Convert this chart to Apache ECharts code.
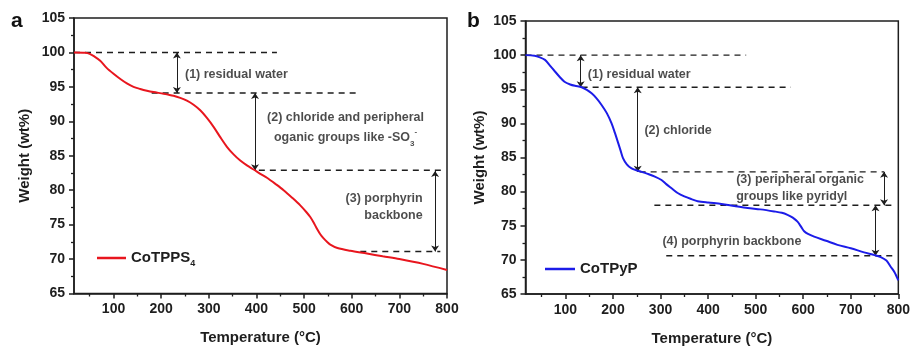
<!DOCTYPE html>
<html>
<head>
<meta charset="utf-8">
<script src="https://cdn.jsdelivr.net/npm/echarts@6/dist/echarts.min.js"></script>
<style>
html,body{margin:0;padding:0;background:#fff;}
#c{width:913px;height:351px;}
</style>
</head>
<body>
<div id="c"></div>
<script>
// ---------- data ----------
const tempA = [17, 40, 50, 60, 72, 85, 100, 115, 128, 142, 156, 170, 184, 205, 226, 240, 254, 268, 282, 296, 310, 324, 338, 352, 366, 380, 394, 410, 422, 440, 457, 475, 492, 505, 513, 520, 527, 534, 541, 548, 555, 570, 597, 632, 665, 700, 750, 800];
const weightA = [100, 99.95, 99.8, 99.4, 98.8, 97.8, 96.9, 96.1, 95.5, 95.0, 94.7, 94.45, 94.25, 94.0, 93.7, 93.4, 93.0, 92.4, 91.6, 90.5, 89.2, 87.7, 86.3, 85.2, 84.3, 83.6, 83.0, 82.3, 81.8, 80.9, 80.0, 78.9, 77.8, 76.8, 76.1, 75.3, 74.4, 73.6, 73.0, 72.5, 72.1, 71.6, 71.2, 70.8, 70.4, 70.0, 69.3, 68.4];

const tempB = [16, 35, 45, 57, 67, 78, 88, 98, 110, 120, 134, 145, 155, 165, 176, 187, 197, 204, 211, 216, 221, 229, 239, 250, 260, 273, 288, 302, 312, 323, 336, 350, 365, 378, 400, 428, 455, 483, 510, 539, 555, 567, 578, 588, 596, 602, 610, 623, 648, 672, 700, 728, 750, 763, 775, 784, 792, 800];
const weightB = [100, 99.9, 99.7, 99.3, 98.5, 97.6, 96.8, 96.1, 95.7, 95.5, 95.3, 94.9, 94.4, 93.7, 92.7, 91.5, 90.0, 88.6, 87.1, 86.0, 84.9, 84.0, 83.4, 83.1, 82.9, 82.6, 82.2, 81.7, 81.1, 80.5, 79.8, 79.3, 78.9, 78.6, 78.4, 78.2, 77.9, 77.6, 77.4, 77.1, 76.9, 76.6, 76.2, 75.6, 74.8, 74.2, 73.8, 73.4, 72.8, 72.2, 71.7, 71.1, 70.7, 70.4, 69.9, 69.0, 68.2, 67.0];

const xMinA = 17, xMinB = 16, xMax = 800;
const yMin = 65, yMax = 105, yStep = 5;
const xTickLabels = [100, 200, 300, 400, 500, 600, 700, 800];
const xMinorTicks = [50, 150, 250, 350, 450, 550, 650, 750];

// dashed guide lines: [weight, fromTemp, toTemp]
const dashA = [[100, 17, 443], [94.1, 180, 610], [82.9, 405, 790], [71.1, 618, 786]];
const dashB = [[100, 16, 480], [95.3, 134, 574], [82.9, 256, 770], [78.0, 287, 795], [70.6, 312, 795]];
// double arrows: [temp, fromWeight, toWeight]
const arrowA = [[233, 100, 94.1], [397, 94.1, 82.9], [775, 82.8, 71.1]];
const arrowB = [[132, 100, 95.3], [252, 95.3, 82.9], [770, 82.9, 78.0], [752, 78.0, 70.6]];
// annotation texts
const noteTextA = ['(1) residual water', '(2) chloride and peripheral\noganic groups like -SO{sub|3}{sup|-}', '(3) porphyrin\nbackbone'];
const noteXA = [250, 587, 749];
const noteYA = [96.8, 89.1, 77.5];
const noteAlignA = ['left', 'center', 'right'];
const noteTextB = ['(1) residual water', '(2) chloride', '(3) peripheral organic\ngroups like pyridyl', '(4) porphyrin backbone'];
const noteXB = [147, 266, 459, 304];
const noteYB = [97.2, 88.9, 80.5, 72.7];
const noteAlignB = ['left', 'left', 'left', 'left'];

const nameA = 'CoTPPS4', nameB = 'CoTPyP';
const xTitle = 'Temperature (°C)';
const yTitle = 'Weight (wt%)';

// ---------- chart ----------
const FONT = "'Liberation Sans', Arial, Helvetica, sans-serif";
const INK = '#1e1e1e';
const RED = '#e8161e', BLUE = '#1c1ce8';

function xAxes(grid, min) {
  return [{
    gridIndex: grid, type: 'value', min: min, max: xMax, position: 'bottom',
    axisLine: {lineStyle: {color: INK, width: 1.5}},
    axisTick: {customValues: xTickLabels, length: 5, lineStyle: {color: INK, width: 1.5}},
    axisLabel: {customValues: xTickLabels, fontSize: 14, fontWeight: 'bold', color: INK, fontFamily: FONT, margin: 9},
    splitLine: {show: false},
    name: xTitle, nameLocation: 'middle', nameGap: 37,
    nameTextStyle: {fontSize: 15, fontWeight: 'bold', color: INK, fontFamily: FONT}
  }, {
    gridIndex: grid, type: 'value', min: min, max: xMax, position: 'bottom',
    axisLine: {show: false},
    axisTick: {customValues: xMinorTicks, length: 3, lineStyle: {color: INK, width: 1.3}},
    axisLabel: {show: false},
    splitLine: {show: false}
  }];
}
function yAxis(grid, gap) {
  return {
    gridIndex: grid, type: 'value', min: yMin, max: yMax, interval: yStep,
    axisLine: {show: true, lineStyle: {color: INK, width: 1.5}},
    axisTick: {show: true, length: 5, lineStyle: {color: INK, width: 1.5}},
    minorTick: {show: true, splitNumber: 2, length: 3, lineStyle: {color: INK, width: 1.3}},
    axisLabel: {fontSize: 14, fontWeight: 'bold', color: INK, fontFamily: FONT, margin: 9},
    splitLine: {show: false},
    name: yTitle, nameLocation: 'middle', nameGap: gap,
    nameTextStyle: {fontSize: 15, fontWeight: 'bold', color: INK, fontFamily: FONT}
  };
}
function zip(xs, ys) { return xs.map((x, i) => [x, ys[i]]); }

function panelSeries(grid, xIdx, name, color, temps, weights, dashes, arrows, texts, xs, ys, aligns, lh) {
  const out = [];
  out.push({
    name: name, type: 'line', xAxisIndex: xIdx, yAxisIndex: grid,
    data: zip(temps, weights), showSymbol: false, smooth: 0.3,
    lineStyle: {color: color, width: 2}, itemStyle: {color: color}, z: 5,
    markLine: {
      silent: true, symbol: ['arrow', 'arrow'], symbolSize: 6, animation: false,
      label: {show: false},
      lineStyle: {color: INK, width: 1, type: 'solid'},
      data: arrows.map(a => [{coord: [a[0], a[1]]}, {coord: [a[0], a[2]]}])
    }
  });
  dashes.forEach(d => {
    out.push({
      type: 'line', xAxisIndex: xIdx, yAxisIndex: grid, silent: true,
      data: [[d[1], d[0]], [d[2], d[0]]], showSymbol: false, symbol: 'none',
      lineStyle: {color: INK, width: 1.4, type: [6, 5]}, z: 3
    });
  });
  out.push({
    type: 'scatter', xAxisIndex: xIdx, yAxisIndex: grid, silent: true, symbolSize: 0,
    data: texts.map((t, i) => ({
      value: [xs[i], ys[i]],
      label: {
        show: true, position: 'inside', formatter: t, align: aligns[i], verticalAlign: 'middle',
        fontSize: 12.5, fontWeight: 'bold', color: INK, fontFamily: FONT, lineHeight: lh[i],
        rich: {
          sub: {fontSize: 8, fontWeight: 'bold', color: INK, fontFamily: FONT, verticalAlign: 'bottom', lineHeight: 14},
          sup: {fontSize: 8, fontWeight: 'bold', color: INK, fontFamily: FONT, verticalAlign: 'top', lineHeight: 14}
        }
      }
    })),
    z: 6
  });
  return out;
}

const legendText = {
  fontSize: 15, fontWeight: 'bold', color: INK, fontFamily: FONT, lineHeight: 20,
  rich: {
    n: {fontSize: 15, fontWeight: 'bold', color: INK, fontFamily: FONT, lineHeight: 20},
    s: {fontSize: 9, fontWeight: 'bold', color: INK, fontFamily: FONT, lineHeight: 12, verticalAlign: 'bottom'}
  }
};

const option = {
  animation: false,
  backgroundColor: '#fff',
  grid: [
    {left: 74, top: 18, width: 373, height: 275.5, show: true, borderColor: INK, borderWidth: 1.5, backgroundColor: 'transparent'},
    {left: 525.5, top: 21, width: 374, height: 273.5, show: true, borderColor: INK, borderWidth: 1.5, backgroundColor: 'transparent'}
  ],
  xAxis: [...xAxes(0, xMinA), ...xAxes(1, xMinB)],
  yAxis: [yAxis(0, 42), yAxis(1, 38)],
  legend: [
    {data: [nameA], left: 97, top: 248, padding: 0, icon: 'rect', itemWidth: 29, itemHeight: 2.5,
     selectedMode: false, textStyle: legendText,
     formatter: () => '{n|CoTPPS}{s|4}'},
    {data: [nameB], left: 545, top: 259, padding: 0, icon: 'rect', itemWidth: 30, itemHeight: 2.5,
     selectedMode: false, textStyle: legendText,
     formatter: () => '{n|CoTPyP}'}
  ],
  graphic: [
    {type: 'text', left: 11, top: 11, style: {text: 'a', font: 'bold 21px ' + FONT, fill: '#111'}},
    {type: 'text', left: 467, top: 11, style: {text: 'b', font: 'bold 21px ' + FONT, fill: '#111'}}
  ],
  series: [
    ...panelSeries(0, 0, nameA, RED, tempA, weightA, dashA, arrowA, noteTextA, noteXA, noteYA, noteAlignA, [17, 20, 17]),
    ...panelSeries(1, 2, nameB, BLUE, tempB, weightB, dashB, arrowB, noteTextB, noteXB, noteYB, noteAlignB, [17, 17, 17, 17])
  ]
};

const chart = echarts.init(document.getElementById('c'), null, {renderer: 'canvas'});
chart.setOption(option);
</script>
</body>
</html>
